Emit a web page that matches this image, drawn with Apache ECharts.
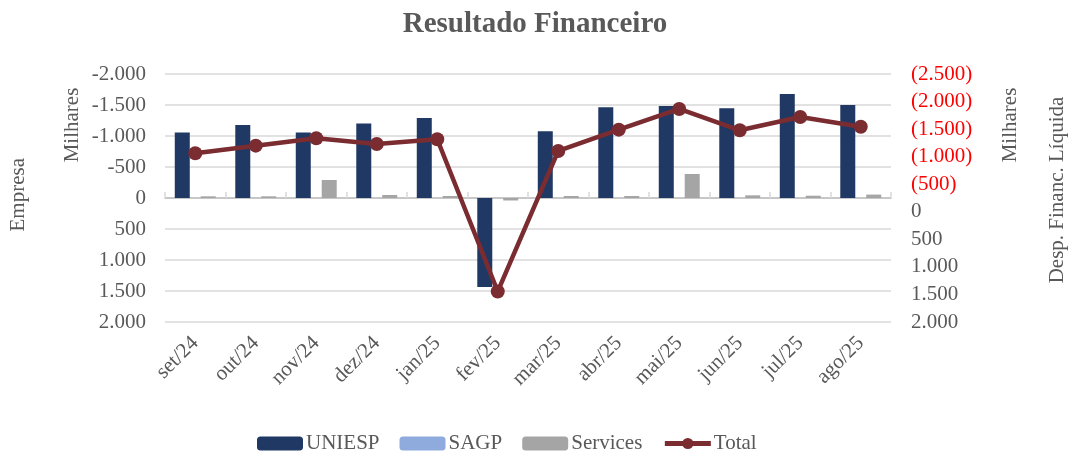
<!DOCTYPE html>
<html>
<head>
<meta charset="utf-8">
<script src="https://cdn.jsdelivr.net/npm/echarts@6/dist/echarts.min.js"></script>
<style>
html,body{margin:0;padding:0;background:#fff;}
#c{width:1070px;height:453px;}
</style>
</head>
<body>
<div id="c"></div>
<script>
const categories = ['set/24','out/24','nov/24','dez/24','jan/25','fev/25','mar/25','abr/25','mai/25','jun/25','jul/25','ago/25'];
const uniesp   = [-1055,-1177,-1055,-1200,-1290,1435,-1076,-1463,-1484,-1447,-1677,-1500];
const sagp     = [0,0,0,0,0,0,0,0,0,0,0,0];
const services = [-27,-27,-290,-48,-32,40,-32,-32,-387,-43,-37,-55];
const total    = [-1062,-1200,-1334,-1231,-1316,1446,-1104,-1490,-1865,-1479,-1720,-1544];

const FONT = 'Liberation Serif';
const GREY = '#595959';
const LINE = '#7B2C30';

function fmt(v){
  const a = Math.abs(v);
  let s = String(a);
  if (a >= 1000) s = Math.floor(a/1000) + '.' + String(a%1000).padStart(3,'0');
  return s;
}

const chart = echarts.init(document.getElementById('c'));
chart.setOption({
  animation:false,
  backgroundColor:'#fff',
  textStyle:{fontFamily:FONT},
  title:{
    text:'Resultado Financeiro', left:'center', top:5,
    textStyle:{fontFamily:FONT,fontSize:29,fontWeight:'bold',color:GREY}
  },
  grid:{left:165,right:179,top:74,bottom:131,containLabel:false},
  legend:{
    top:428, left:252, itemWidth:46, itemHeight:14, itemGap:20,
    textStyle:{fontFamily:FONT,fontSize:21,color:GREY,padding:[0,0,0,-2]},
    data:['UNIESP','SAGP','Services',
      {name:'Total', itemStyle:{color:LINE}, lineStyle:{color:LINE,width:5}}]
  },
  graphic:[
    {type:'text', left:8, top:158, rotation:Math.PI/2,
      style:{text:'Empresa',font:'21px "Liberation Serif"',fill:GREY}},
    {type:'text', x:72, y:125, rotation:Math.PI/2,
      style:{text:'Milhares',font:'21px "Liberation Serif"',fill:GREY,align:'center',verticalAlign:'middle'}},
    {type:'text', x:1010, y:125, rotation:Math.PI/2,
      style:{text:'Milhares',font:'21px "Liberation Serif"',fill:GREY,align:'center',verticalAlign:'middle'}},
    {type:'text', x:1057, y:190, rotation:Math.PI/2,
      style:{text:'Desp. Financ. Líquida',font:'21px "Liberation Serif"',fill:GREY,align:'center',verticalAlign:'middle'}}
  ],
  xAxis:[
    {type:'category', data:categories, position:'bottom',
      axisLine:{show:false,onZero:false}, axisTick:{show:false},
      axisLabel:{rotate:45, margin:18, fontFamily:FONT, fontSize:21, color:GREY, interval:0}},
    {type:'category', data:categories, position:'bottom',
      axisLine:{show:true,onZero:true,onZeroAxisIndex:0,lineStyle:{color:'#BFBFBF',width:1.5}},
      axisTick:{show:true,inside:true,length:6,lineStyle:{color:'#D9D9D9',width:1.5}},
      axisLabel:{show:false}, splitLine:{show:false}}
  ],
  yAxis:[
    {type:'value', inverse:true, min:-2000, max:2000, interval:500, position:'left',
      axisLine:{show:false}, axisTick:{show:false},
      splitLine:{lineStyle:{color:'#D9D9D9',width:1.5}},
      axisLabel:{margin:19, fontFamily:FONT, fontSize:21, color:GREY,
        formatter:function(v){ return (v<0?'-':'') + fmt(v); }}},
    {type:'value', inverse:true, min:-2500, max:2000, interval:500, position:'right',
      axisLine:{show:false}, axisTick:{show:false}, splitLine:{show:false},
      axisLabel:{margin:20, fontFamily:FONT, fontSize:21, color:GREY,
        formatter:function(v){ return v<0 ? '{r|(' + fmt(v) + ')}' : fmt(v); },
        rich:{r:{color:'#FF0000',fontFamily:FONT,fontSize:21}}}}
  ],
  series:[
    {name:'UNIESP', type:'bar', data:uniesp, stack:'u', barWidth:15, barGap:'73%',
      itemStyle:{color:'#203864'}},
    {name:'SAGP', type:'bar', data:sagp, stack:'u', barWidth:15,
      itemStyle:{color:'#8FAADC'}},
    {name:'Services', type:'bar', data:services, barWidth:15,
      itemStyle:{color:'#A5A5A5'}},
    {name:'Total', type:'line', yAxisIndex:1, data:total,
      symbol:'circle', symbolSize:14,
      lineStyle:{color:LINE,width:4.5}, itemStyle:{color:LINE}}
  ]
});
</script>
</body>
</html>
